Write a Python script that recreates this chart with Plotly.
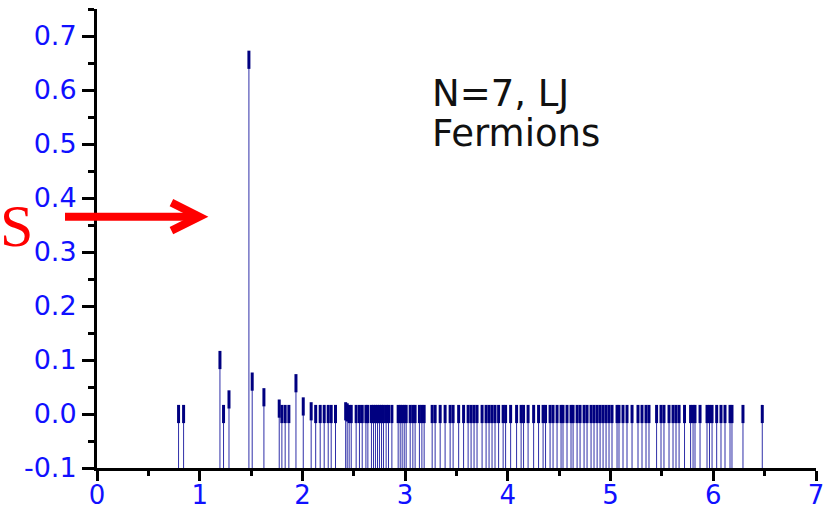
import plotly.graph_objects as go

# ---- data: level positions (x) and weights (y) ----
level_x = [
    0.794, 0.843, 1.197, 1.232, 1.285, 1.479, 1.511, 1.625, 1.774, 1.800,
    1.832, 1.868, 1.937, 2.008, 2.085, 2.129, 2.173, 2.212, 2.251, 2.280,
    2.322, 2.421, 2.436, 2.455, 2.475, 2.523, 2.555, 2.582, 2.618, 2.637,
    2.672, 2.692, 2.711, 2.731, 2.750, 2.770, 2.789, 2.815, 2.838, 2.871,
    2.932, 2.952, 2.971, 2.991, 3.010, 3.049, 3.075, 3.097, 3.139, 3.163,
    3.185, 3.263, 3.292, 3.341, 3.389, 3.438, 3.467, 3.521, 3.569, 3.613,
    3.642, 3.671, 3.700, 3.749, 3.788, 3.817, 3.846, 3.875, 3.910, 3.954,
    3.978, 4.027, 4.085, 4.129, 4.153, 4.197, 4.251, 4.299, 4.343, 4.367,
    4.411, 4.440, 4.479, 4.518, 4.537, 4.576, 4.615, 4.635, 4.674, 4.703,
    4.742, 4.771, 4.810, 4.839, 4.869, 4.898, 4.927, 4.956, 4.985, 5.014,
    5.063, 5.082, 5.121, 5.160, 5.209, 5.267, 5.306, 5.345, 5.374, 5.448,
    5.491, 5.520, 5.569, 5.608, 5.637, 5.667, 5.720, 5.779, 5.803, 5.822,
    5.871, 5.939, 5.963, 5.988, 6.033, 6.075, 6.114, 6.163, 6.182, 6.289,
    6.477,
]
level_y = [
    0.000, 0.000, 0.100, 0.000, 0.027, 0.656, 0.060, 0.031, 0.010, 0.000,
    0.000, 0.000, 0.057, 0.014, 0.005, 0.000, 0.000, 0.000, 0.000, 0.000,
    0.000, 0.005, 0.003, 0.000, 0.000, 0.000, 0.000, 0.000, 0.000, 0.000,
    0.000, 0.000, 0.000, 0.000, 0.000, 0.000, 0.000, 0.000, 0.000, 0.000,
    0.000, 0.000, 0.000, 0.000, 0.000, 0.000, 0.000, 0.000, 0.000, 0.000,
    0.000, 0.000, 0.000, 0.000, 0.000, 0.000, 0.000, 0.000, 0.000, 0.000,
    0.000, 0.000, 0.000, 0.000, 0.000, 0.000, 0.000, 0.000, 0.000, 0.000,
    0.000, 0.000, 0.000, 0.000, 0.000, 0.000, 0.000, 0.000, 0.000, 0.000,
    0.000, 0.000, 0.000, 0.000, 0.000, 0.000, 0.000, 0.000, 0.000, 0.000,
    0.000, 0.000, 0.000, 0.000, 0.000, 0.000, 0.000, 0.000, 0.000, 0.000,
    0.000, 0.000, 0.000, 0.000, 0.000, 0.000, 0.000, 0.000, 0.000, 0.000,
    0.000, 0.000, 0.000, 0.000, 0.000, 0.000, 0.000, 0.000, 0.000, 0.000,
    0.000, 0.000, 0.000, 0.000, 0.000, 0.000, 0.000, 0.000, 0.000, 0.000,
    0.000,
]
assert len(level_x) == len(level_y)

x_range = [0, 7]
y_range = [-0.1, 0.75]
x_tickvals = [0, 1, 2, 3, 4, 5, 6, 7]
x_ticktext = ["0", "1", "2", "3", "4", "5", "6", "7"]
y_tickvals = [-0.1, 0.0, 0.1, 0.2, 0.3, 0.4, 0.5, 0.6, 0.7]
y_ticktext = ["-0.1", "0.0", "0.1", "0.2", "0.3", "0.4", "0.5", "0.6", "0.7"]
label_lines = ["N=7, LJ", "Fermions"]
side_label = "S"

# drop lines from the axis floor up to each level
drop_x, drop_y = [], []
for xv, yv in zip(level_x, level_y):
    drop_x += [xv, xv, None]
    drop_y += [y_range[0], yv, None]

fig = go.Figure()
fig.add_trace(go.Scatter(
    x=drop_x, y=drop_y, mode="lines",
    line=dict(color="#2f2fa8", width=1),
    hoverinfo="skip", showlegend=False,
))
fig.add_trace(go.Scatter(
    x=level_x, y=level_y, mode="markers",
    marker=dict(symbol="line-ns", size=13,
                line=dict(color="#000080", width=3)),
    showlegend=False,
))

tickfont = dict(family="DejaVu Sans", size=27, color="#1010ff")
xtickfont = dict(family="DejaVu Sans", size=26, color="#1010ff")
fig.update_xaxes(
    range=x_range, tickvals=x_tickvals, ticktext=x_ticktext,
    showline=True, linecolor="black", linewidth=3, mirror=False,
    ticks="outside", ticklen=10, tickwidth=3, tickcolor="black",
    minor=dict(dtick=0.5, tick0=0, ticks="outside", ticklen=5,
               tickwidth=3, tickcolor="black"),
    showgrid=False, zeroline=False, tickfont=xtickfont, automargin=False,
    ticklabelstandoff=-8,
)
fig.update_yaxes(
    range=y_range, tickvals=y_tickvals, ticktext=y_ticktext,
    showline=True, linecolor="black", linewidth=3, mirror=False,
    ticks="outside", ticklen=12, tickwidth=3, tickcolor="black",
    minor=dict(dtick=0.05, tick0=-0.1, ticks="outside", ticklen=6,
               tickwidth=3, tickcolor="black"),
    showgrid=False, zeroline=False, tickfont=tickfont, automargin=False,
)

txtfont = dict(family="DejaVu Sans", size=37, color="#111111")
fig.add_annotation(x=3.245, y=0.594, xref="x", yref="y", text=label_lines[0],
                   showarrow=False, xanchor="left", yanchor="middle", font=txtfont)
fig.add_annotation(x=3.245, y=0.5187, xref="x", yref="y", text=label_lines[1],
                   showarrow=False, xanchor="left", yanchor="middle", font=txtfont)

# red "S" and arrow (outside the plot, left side)
fig.add_annotation(x=-0.1113, y=0.527, xref="paper", yref="paper", text=side_label,
                   showarrow=False, xanchor="center", yanchor="middle",
                   font=dict(family="Liberation Serif, Times New Roman", size=60, color="#ff0000"))
fig.add_shape(type="line", xref="paper", yref="paper",
              x0=-0.0445, y0=0.5475, x1=0.140, y1=0.5475,
              line=dict(color="#ff0000", width=8))
fig.add_shape(type="path", xref="paper", yref="paper",
              path="M 0.1035 0.578 L 0.1425 0.5475 L 0.1035 0.517",
              line=dict(color="#ff0000", width=8))

fig.update_layout(
    width=836, height=509,
    margin=dict(l=97, r=20, t=9, b=41, pad=0),
    plot_bgcolor="white", paper_bgcolor="white",
    showlegend=False,
)
fig.write_html("out.html")
